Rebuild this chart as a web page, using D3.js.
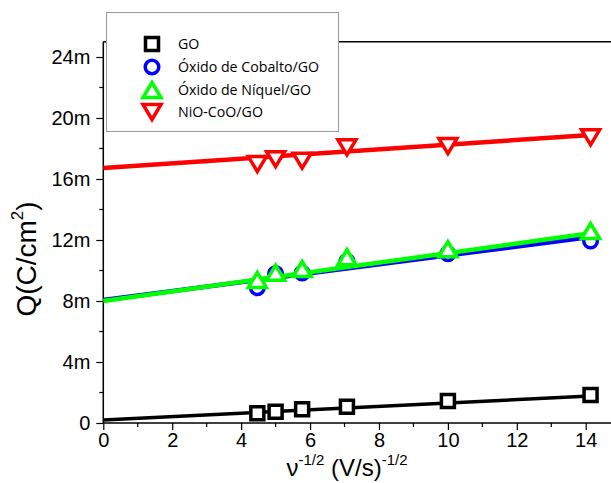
<!DOCTYPE html>
<html>
<head>
<meta charset="utf-8">
<script src="https://cdn.jsdelivr.net/npm/d3@7"></script>
<style>
  html, body { margin: 0; padding: 0; background: #fff; }
  svg { display: block; }
</style>
</head>
<body>
<svg id="chart" width="611" height="483"></svg>
<script>
// Inverse square root of scan rate, (V/s)^-1/2
const xValues = [4.47, 5.0, 5.77, 7.07, 10.0, 14.14];

// Charge density, mC/cm^2 (axis shows "m" prefix)
const goQ   = [0.64, 0.74, 0.90, 1.07, 1.44, 1.84];
const coQ   = [8.87, 9.80, 9.84, 10.60, 11.10, 11.93];
const niQ   = [9.38, 9.86, 10.10, 10.87, 11.40, 12.59];
const nicoQ = [16.98, 17.30, 17.20, 18.08, 18.16, 18.73];

// Linear fits: Q = intercept + slope * x
const fitIntercept = [0.20, 8.07, 8.00, 16.72];
const fitSlope     = [0.1115, 0.292, 0.314, 0.153];

const seriesNames  = ["GO", "Óxido de Cobalto/GO", "Óxido de Níquel/GO", "NiO-CoO/GO"];
const seriesColors = ["#000000", "#0000ff", "#00ff00", "#ff0000"];
const seriesShapes = ["square", "circle", "triangleUp", "triangleDown"];

const xTicks = [0, 2, 4, 6, 8, 10, 12, 14];
const xMinorTicks = [1, 3, 5, 7, 9, 11, 13];
const yTicks = [0, 4, 8, 12, 16, 20, 24];
const yMinorTicks = [2, 6, 10, 14, 18, 22];

const svg = d3.select("#chart");
const W = 611;

const x = d3.scaleLinear().domain([0, 15]).range([103.3, 620.2]);
const y = d3.scaleLinear().domain([0, 25]).range([423, 41.75]);

const seriesValues = [goQ, coQ, niQ, nicoQ];

// Frame: top border
svg.append("line")
  .attr("x1", x(0)).attr("x2", W)
  .attr("y1", y(25)).attr("y2", y(25))
  .attr("stroke", "#000").attr("stroke-width", 1.5);

// Axes
const xAxis = d3.axisBottom(x).tickValues(xTicks).tickSize(7).tickPadding(3)
  .tickFormat(d3.format("d"));
const gx = svg.append("g").attr("transform", `translate(0,${y(0)})`).call(xAxis);
gx.select(".domain").remove();
gx.append("line").attr("x1", x(0)).attr("x2", W).attr("y1", 0).attr("y2", 0)
  .attr("stroke", "#000").attr("stroke-width", 1.5);
gx.selectAll(".tick line").attr("stroke-width", 1.2);
gx.selectAll(".tick text")
  .attr("font-family", "'Liberation Sans', Arial, sans-serif")
  .attr("font-size", 20).attr("fill", "#000");
gx.selectAll(".minor").data(xMinorTicks).enter().append("line")
  .attr("class", "minor")
  .attr("x1", d => x(d)).attr("x2", d => x(d))
  .attr("y1", 0).attr("y2", 4)
  .attr("stroke", "#000").attr("stroke-width", 1.2);

const yAxis = d3.axisLeft(y).tickValues(yTicks).tickSize(7).tickPadding(6)
  .tickFormat(d => d === 0 ? "0" : d + "m");
const gy = svg.append("g").attr("transform", `translate(${x(0)},0)`).call(yAxis);
gy.select(".domain").remove();
gy.append("line").attr("x1", 0).attr("x2", 0).attr("y1", y(0)).attr("y2", y(25))
  .attr("stroke", "#000").attr("stroke-width", 1.5);
gy.selectAll(".tick line").attr("stroke-width", 1.2);
gy.selectAll(".tick text")
  .attr("font-family", "'Liberation Sans', Arial, sans-serif")
  .attr("font-size", 20).attr("fill", "#000");
gy.selectAll(".minor").data(yMinorTicks).enter().append("line")
  .attr("class", "minor")
  .attr("x1", -4).attr("x2", 0)
  .attr("y1", d => y(d)).attr("y2", d => y(d))
  .attr("stroke", "#000").attr("stroke-width", 1.2);

// Marker path generators
function markerPath(shape) {
  switch (shape) {
    case "square": return "M-6.5,-6.5H6.5V6.5H-6.5Z";
    case "circle": return d3.symbol(d3.symbolCircle, Math.PI * 6.8 * 6.8)();
    case "triangleUp": return "M0,-7.5L9,7.5L-9,7.5Z";
    case "triangleDown": return "M0,7.5L9,-7.5L-9,-7.5Z";
  }
}

const xMax = d3.max(xValues);
const plot = svg.append("g");

seriesValues.forEach((vals, i) => {
  const g = plot.append("g");
  const fit = [0, xMax].map(v => [v, fitIntercept[i] + fitSlope[i] * v]);
  g.append("path")
    .datum(fit)
    .attr("d", d3.line().x(d => x(d[0])).y(d => y(d[1])))
    .attr("fill", "none")
    .attr("stroke", seriesColors[i])
    .attr("stroke-width", i === 0 ? 3.5 : 4.5);
  g.selectAll("path.mk")
    .data(vals.map((v, j) => [xValues[j], v]))
    .enter().append("path")
    .attr("class", "mk")
    .attr("transform", d => `translate(${x(d[0])},${y(d[1])})`)
    .attr("d", markerPath(seriesShapes[i]))
    .attr("fill", "#fff")
    .attr("stroke", seriesColors[i])
    .attr("stroke-width", 3.5);
});

// Legend
const legend = svg.append("g");
legend.append("rect")
  .attr("x", 106.5).attr("y", 12.5).attr("width", 232).attr("height", 119)
  .attr("fill", "#fff").attr("stroke", "#9a9a9a").attr("stroke-width", 1);
const rowY = [44, 67, 90, 112];
seriesNames.forEach((name, i) => {
  legend.append("path")
    .attr("transform", `translate(152,${rowY[i]})`)
    .attr("d", markerPath(seriesShapes[i]))
    .attr("fill", "#fff")
    .attr("stroke", seriesColors[i])
    .attr("stroke-width", 3.5);
  legend.append("text")
    .attr("x", 178).attr("y", rowY[i] + 5)
    .attr("font-family", "'Open Sans', sans-serif")
    .attr("font-size", 14.2)
    .attr("fill", "#000")
    .text(name);
});

// Axis titles
const xTitle = svg.append("text")
  .attr("x", 347).attr("y", 476)
  .attr("text-anchor", "middle")
  .attr("font-family", "'Liberation Sans', Arial, sans-serif")
  .attr("font-size", 24).attr("fill", "#000");
xTitle.append("tspan").text("ν");
xTitle.append("tspan").attr("font-size", 15).attr("dy", -11).text("-1/2");
xTitle.append("tspan").attr("dy", 11).text(" (V/s)");
xTitle.append("tspan").attr("font-size", 15).attr("dy", -11).text("-1/2");

const yTitle = svg.append("text")
  .attr("transform", "translate(36,259) rotate(-90)")
  .attr("text-anchor", "middle")
  .attr("font-family", "'Liberation Sans', Arial, sans-serif")
  .attr("font-size", 28).attr("fill", "#000");
yTitle.append("tspan").text("Q(C/cm");
yTitle.append("tspan").attr("font-size", 17).attr("dy", -13).text("2");
yTitle.append("tspan").attr("dy", 13).text(")");
</script>
</body>
</html>
